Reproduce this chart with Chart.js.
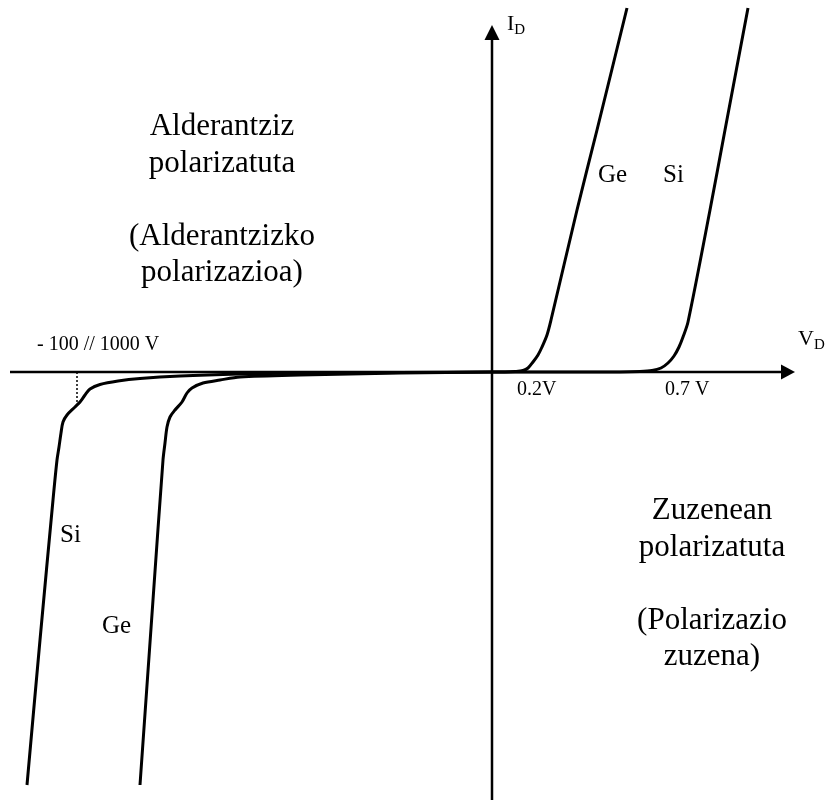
<!DOCTYPE html>
<html>
<head>
<meta charset="utf-8">
<script src="https://cdn.jsdelivr.net/npm/chart.js@4/dist/chart.umd.min.js"></script>
<style>
html,body{margin:0;padding:0;background:#fff;}
canvas{display:block;}
</style>
</head>
<body>
<canvas id="c" width="833" height="802"></canvas>
<script>
// Diagram units: origin at the axes crossing.
const geForwardX = [0, 13, 23, 31, 36, 41, 46, 50, 55, 59, 85, 105, 135];
const geForwardY = [0, 0, 0.5, 1.5, 4, 10, 17, 25, 37, 52, 162, 242, 364];
const siForwardX = [0, 68, 128, 148, 160, 169, 176, 182, 187, 191, 196, 218, 233, 256];
const siForwardY = [0, 0, 0, 0.5, 1.5, 4, 9, 16, 25, 35, 50, 162, 242, 364];
const siReverseX = [0, -92, -192, -252, -312, -352, -374, -392, -402, -407, -412, -417, -425, -429, -431, -433, -435, -439, -452, -465];
const siReverseY = [0, -0.5, -1, -2, -4, -6.5, -9, -12.5, -17, -23, -30, -35, -43, -50, -61, -75, -88, -128, -268, -413];
const geReverseX = [0, -92, -192, -252, -272, -289, -300, -305, -310, -317, -322, -325, -327, -329, -339, -352];
const geReverseY = [0, -1, -3, -5, -8, -11, -16, -21, -30, -38, -45, -55, -71, -88, -228, -413];
const breakdownX = [-415, -415];
const breakdownY = [0, -33];
const xAxisX = [-482, 292];
const xAxisY = [0, 0];
const yAxisX = [0, 0];
const yAxisY = [-428, 334];

const reverseText = ["Alderantziz", "polarizatuta", "", "(Alderantzizko", "polarizazioa)"];
const forwardText = ["Zuzenean", "polarizatuta", "", "(Polarizazio", "zuzena)"];
const curveLabels = ["Ge", "Si", "Si", "Ge"];
const tickLabels = ["0.2V", "0.7 V", "- 100 // 1000 V"];
const axisNames = ["I", "V"];
const axisSub = "D";

function pts(xs, ys) { return xs.map((v, i) => ({x: v, y: ys[i]})); }

function lineSet(xs, ys, width, dash, tension) {
  return {
    data: pts(xs, ys),
    showLine: true,
    borderColor: '#000',
    backgroundColor: '#000',
    borderWidth: width,
    borderDash: dash || [],
    tension: tension,
    pointRadius: 0,
    fill: false,
    borderCapStyle: 'butt',
    borderJoinStyle: 'round'
  };
}

const serif = '"Liberation Serif", "Times New Roman", serif';

const overlay = {
  id: 'overlay',
  afterDatasetsDraw(chart) {
    const {ctx, scales: {x, y}} = chart;
    ctx.save();
    ctx.fillStyle = '#000';
    // arrow heads
    const xt = x.getPixelForValue(303), y0 = y.getPixelForValue(0);
    ctx.beginPath();
    ctx.moveTo(xt, y0);
    ctx.lineTo(xt - 14, y0 - 7.5);
    ctx.lineTo(xt - 14, y0 + 7.5);
    ctx.closePath();
    ctx.fill();
    const x0 = x.getPixelForValue(0), yt = y.getPixelForValue(347);
    ctx.beginPath();
    ctx.moveTo(x0, yt);
    ctx.lineTo(x0 - 7.5, yt + 15);
    ctx.lineTo(x0 + 7.5, yt + 15);
    ctx.closePath();
    ctx.fill();

    ctx.textBaseline = 'alphabetic';
    // text blocks
    ctx.font = '31px ' + serif;
    ctx.textAlign = 'center';
    const lh = 36.5;
    reverseText.forEach((t, i) => {
      ctx.fillText(t, x.getPixelForValue(-270), y.getPixelForValue(237) + i * lh);
    });
    forwardText.forEach((t, i) => {
      ctx.fillText(t, x.getPixelForValue(220), y.getPixelForValue(-147) + i * lh);
    });
    // curve labels
    ctx.textAlign = 'left';
    ctx.font = '25px ' + serif;
    const cl = [[106, 190], [171, 190], [-432, -170], [-390, -261]];
    curveLabels.forEach((t, i) => ctx.fillText(t, x.getPixelForValue(cl[i][0]), y.getPixelForValue(cl[i][1])));
    // tick labels
    ctx.font = '20px ' + serif;
    const tl = [[25, -23], [173, -23], [-455, 22]];
    tickLabels.forEach((t, i) => ctx.fillText(t, x.getPixelForValue(tl[i][0]), y.getPixelForValue(tl[i][1])));
    // axis names with subscript
    const an = [[15, 342], [306, 27]];
    axisNames.forEach((t, i) => {
      const px = x.getPixelForValue(an[i][0]), py = y.getPixelForValue(an[i][1]);
      ctx.font = '22px ' + serif;
      ctx.fillText(t, px, py);
      const w = ctx.measureText(t).width;
      ctx.font = '15px ' + serif;
      ctx.fillText(axisSub, px + w, py + 4);
    });
    ctx.restore();
  }
};

new Chart(document.getElementById('c'), {
  type: 'scatter',
  data: {
    datasets: [
      lineSet(xAxisX, xAxisY, 2.5, null, 0),
      lineSet(yAxisX, yAxisY, 2.5, null, 0),
      lineSet(breakdownX, breakdownY, 1.5, [2, 2], 0),
      lineSet(geForwardX, geForwardY, 3, null, 0.3),
      lineSet(siForwardX, siForwardY, 3, null, 0.3),
      lineSet(siReverseX, siReverseY, 3, null, 0.3),
      lineSet(geReverseX, geReverseY, 3, null, 0.3)
    ]
  },
  options: {
    responsive: false,
    animation: false,
    devicePixelRatio: 1,
    layout: {padding: 0},
    plugins: {legend: {display: false}, tooltip: {enabled: false}},
    scales: {
      x: {type: 'linear', min: -492, max: 341, display: false},
      y: {type: 'linear', min: -430, max: 372, display: false}
    }
  },
  plugins: [overlay]
});
</script>
</body>
</html>
